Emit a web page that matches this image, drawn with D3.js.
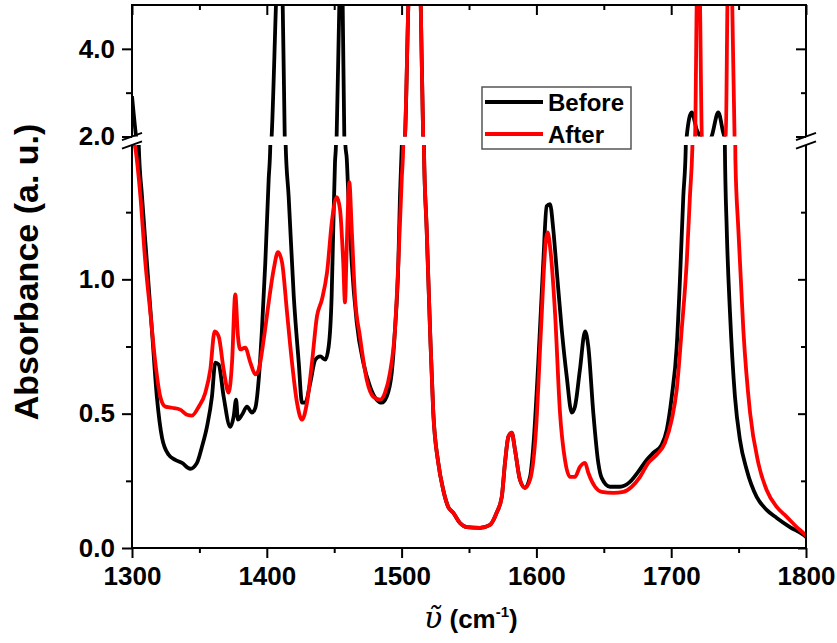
<!DOCTYPE html>
<html><head><meta charset="utf-8">
<script src="https://cdn.jsdelivr.net/npm/d3@7"></script>
<style>
body{margin:0;background:#fff;}
svg{display:block;}
text{font-family:"Liberation Sans",Arial,sans-serif;font-weight:bold;fill:#000;}
</style></head>
<body>
<svg id="c" width="837" height="643"></svg>
<script>
// ---- data (wavenumber cm-1, absorbance a.u.) ----
const seriesNames = ["Before", "After"];
const seriesColors = ["#000000", "#ff0000"];

const wnBefore = [1300,1303.0,1305.0,1307.4,1311.1,1314.8,1318.5,1322.3,1327.2,1332.1,1337.1,1343.2,1348.2,1351.9,1355.6,1359.3,1361.8,1364.3,1368.0,1372.9,1375.4,1377.2,1378.6,1381.6,1385.3,1389.0,1391.5,1394.0,1396.4,1398.9,1401.4,1402.6,1403.6,1406.8,1408.5,1411.8,1413.3,1414.0,1416.2,1420.0,1423.7,1426.1,1428.6,1432.3,1436.0,1439.7,1443.4,1445.9,1448.1,1449.3,1450.6,1451.3,1451.8,1453.8,1455.0,1456.3,1457.5,1458.3,1459.3,1460.5,1463.0,1466.7,1471.6,1476.6,1481.5,1485.2,1488.9,1492.7,1495.1,1497.6,1498.8,1500.1,1502.5,1505.0,1510.0,1514.2,1516.0,1516.6,1518.6,1521.1,1523.5,1527.2,1530.9,1534.6,1538.4,1543.3,1548.3,1558.2,1565.6,1570.5,1574.3,1576.7,1579.2,1581.7,1584.1,1587.8,1591.5,1595.3,1597.7,1601.4,1605.1,1607.6,1610.1,1612.5,1615.0,1618.8,1622.5,1626.2,1628.6,1632.3,1636.1,1638.5,1642.2,1645.9,1648.4,1654.6,1662.0,1669.4,1675.6,1681.8,1686.7,1692.9,1696.7,1700.4,1704.1,1706.5,1709.0,1710.8,1711.5,1715.2,1719.0,1721.4,1725.5,1730.0,1734.9,1738.5,1739.3,1739.8,1741.2,1743.6,1747.3,1751.0,1756.0,1763.4,1770.8,1778.3,1788.1,1798.0,1800];
const absBefore = [2.92,2.0,1.50,1.31,1.06,0.81,0.56,0.41,0.347,0.328,0.317,0.295,0.317,0.377,0.451,0.563,0.690,0.683,0.563,0.451,0.489,0.552,0.478,0.496,0.526,0.504,0.522,0.627,0.813,1.063,1.373,1.50,2.0,5.0,6.5,5.0,2.0,1.50,1.31,0.937,0.690,0.541,0.541,0.616,0.701,0.713,0.701,0.750,0.937,1.187,1.437,1.50,2.0,5.0,6.5,5.0,2.0,1.50,1.45,1.31,1.063,0.840,0.690,0.601,0.552,0.541,0.563,0.653,0.813,1.063,1.310,1.49,2.0,5.0,8.0,5.0,2.0,1.48,1.187,0.813,0.504,0.317,0.216,0.153,0.131,0.093,0.078,0.075,0.086,0.131,0.190,0.317,0.414,0.429,0.366,0.254,0.224,0.265,0.377,0.690,1.063,1.272,1.280,1.187,1.037,0.813,0.638,0.504,0.526,0.664,0.806,0.750,0.504,0.317,0.261,0.228,0.228,0.246,0.284,0.328,0.354,0.384,0.440,0.563,0.750,1.000,1.310,1.49,2.0,2.55,2.15,2.0,1.8,2.0,2.55,2.1,2.0,1.5,1.187,0.877,0.563,0.403,0.291,0.190,0.142,0.112,0.078,0.049,0.041];

const wnAfter = [1300,1303.0,1306.2,1309.9,1313.6,1317.3,1321.0,1324.7,1329.7,1335.8,1340.8,1344.5,1349.5,1354.4,1358.1,1361.3,1364.3,1368.0,1371.7,1374.2,1376.6,1378.6,1380.3,1384.0,1387.8,1391.5,1394.0,1397.7,1401.4,1405.1,1408.3,1411.3,1415.0,1418.7,1422.4,1426.1,1429.8,1433.5,1437.2,1440.9,1444.7,1448.4,1451.9,1454.3,1456.7,1458.0,1459.3,1461.2,1463.0,1465.4,1469.1,1474.1,1479.0,1484.0,1487.7,1491.4,1495.1,1497.6,1500.1,1501.3,1502.5,1505.0,1510.0,1514.2,1516.0,1516.6,1518.6,1521.1,1523.5,1527.2,1530.9,1534.6,1538.4,1543.3,1548.3,1558.2,1565.6,1570.5,1574.3,1576.7,1579.2,1581.7,1584.1,1587.8,1591.5,1595.3,1599.7,1603.4,1607.1,1608.3,1610.1,1613.8,1617.5,1621.2,1624.9,1628.6,1632.3,1636.1,1638.5,1643.5,1648.4,1657.1,1664.5,1670.7,1676.9,1683.0,1689.2,1695.4,1700.4,1704.1,1707.8,1711.5,1713.9,1715.7,1717.7,1718.9,1720.2,1721.4,1722.8,1728.0,1740.5,1741.7,1743.6,1745.3,1747.0,1747.6,1749.8,1753.5,1758.5,1764.6,1770.8,1778.3,1785.7,1793.1,1799.3,1800];
const absAfter = [1.55,1.47,1.311,1.063,0.877,0.690,0.563,0.526,0.522,0.515,0.496,0.493,0.526,0.578,0.664,0.806,0.787,0.664,0.578,0.690,0.944,0.787,0.739,0.746,0.690,0.646,0.664,0.776,0.914,1.037,1.101,1.063,0.877,0.690,0.541,0.478,0.541,0.690,0.862,0.925,1.026,1.22,1.306,1.261,1.063,0.914,1.123,1.362,1.187,0.937,0.787,0.627,0.563,0.552,0.578,0.653,0.813,1.063,1.373,1.51,2.0,5.0,8.0,5.0,2.0,1.48,1.187,0.813,0.504,0.317,0.216,0.153,0.131,0.093,0.078,0.075,0.086,0.131,0.190,0.317,0.414,0.429,0.366,0.254,0.224,0.254,0.440,0.813,1.149,1.175,1.123,0.877,0.504,0.328,0.265,0.265,0.302,0.317,0.280,0.228,0.209,0.205,0.209,0.228,0.265,0.317,0.347,0.392,0.478,0.590,0.813,1.063,1.310,1.49,2.0,5.0,7.0,5.0,2.0,1.75,2.0,5.0,7.0,5.0,2.0,1.45,1.187,0.813,0.504,0.317,0.216,0.153,0.116,0.078,0.049,0.045];

const xTicks = [1300,1400,1500,1600,1700,1800];
const xMinor = [1350,1450,1550,1650,1750];
const yLowTicks = [0.0,0.5,1.0];
const yLowMinor = [0.25,0.75,1.25];
const yHighTicks = [2.0,4.0];
const yHighMinor = [3.0];

// ---- layout ----
const L = 132, R = 806, T = 5, B = 548;
const lowTop = 145, highBot = 136.5;
const svg = d3.select("#c");

const x = d3.scaleLinear().domain([1300,1800]).range([L,R]);
const yLow = d3.scaleLinear().domain([0,1.5]).range([B,lowTop]);
const yHigh = d3.scaleLinear().domain([2,5]).range([highBot,T]);

const defs = svg.append("defs");
defs.append("clipPath").attr("id","clipLow").append("rect")
  .attr("x",L).attr("y",lowTop).attr("width",R-L).attr("height",B-lowTop);
defs.append("clipPath").attr("id","clipHigh").append("rect")
  .attr("x",L).attr("y",T).attr("height",highBot-T).attr("width",R-L);

const series = [
  {wn: wnBefore, ab: absBefore, color: seriesColors[0]},
  {wn: wnAfter, ab: absAfter, color: seriesColors[1]}
];

const gLow = svg.append("g").attr("clip-path","url(#clipLow)");
const gHigh = svg.append("g").attr("clip-path","url(#clipHigh)");
series.forEach(s=>{
  const pts = s.wn.map((w,i)=>[w,s.ab[i]]);
  const lineLow = d3.line().x(d=>x(d[0])).y(d=>yLow(d[1])).curve(d3.curveMonotoneX);
  const lineHigh = d3.line().x(d=>x(d[0])).y(d=>yHigh(d[1])).curve(d3.curveMonotoneX);
  gLow.append("path").datum(pts).attr("d",lineLow).attr("fill","none")
    .attr("stroke",s.color).attr("stroke-width",3.8).attr("stroke-linejoin","round");
  gHigh.append("path").datum(pts).attr("d",lineHigh).attr("fill","none")
    .attr("stroke",s.color).attr("stroke-width",3.8).attr("stroke-linejoin","round");
});

// ---- axes ----
const fontPx = 26;
function styleAxis(g){
  g.select(".domain").remove();
  g.selectAll(".tick line").attr("stroke","#000").attr("stroke-width",2);
  g.selectAll("text").attr("font-size",fontPx+"px").attr("font-family","Liberation Sans, Arial, sans-serif").attr("font-weight","bold").attr("fill","#000");
}
// bottom
svg.append("g").attr("transform",`translate(0,${B})`)
  .call(d3.axisBottom(x).tickValues(xTicks).tickSize(10).tickPadding(9).tickFormat(d3.format("d"))).call(styleAxis);
svg.append("g").attr("transform",`translate(0,${B})`)
  .call(d3.axisBottom(x).tickValues(xMinor).tickSize(5).tickFormat("")).call(styleAxis);
// top (inward)
svg.append("g").attr("transform",`translate(0,${T})`)
  .call(d3.axisTop(x).tickValues(xTicks).tickSize(-10).tickFormat("")).call(styleAxis);
svg.append("g").attr("transform",`translate(0,${T})`)
  .call(d3.axisTop(x).tickValues(xMinor).tickSize(-5).tickFormat("")).call(styleAxis);
// left
svg.append("g").attr("transform",`translate(${L},0)`)
  .call(d3.axisLeft(yLow).tickValues(yLowTicks).tickSize(10).tickPadding(7).tickFormat(d3.format(".1f"))).call(styleAxis);
svg.append("g").attr("transform",`translate(${L},0)`)
  .call(d3.axisLeft(yLow).tickValues(yLowMinor).tickSize(6).tickFormat("")).call(styleAxis);
svg.append("g").attr("transform",`translate(${L},0)`)
  .call(d3.axisLeft(yHigh).tickValues(yHighTicks).tickSize(10).tickPadding(7).tickFormat(d3.format(".1f"))).call(styleAxis);
svg.append("g").attr("transform",`translate(${L},0)`)
  .call(d3.axisLeft(yHigh).tickValues(yHighMinor).tickSize(6).tickFormat("")).call(styleAxis);
// right (inward)
svg.append("g").attr("transform",`translate(${R},0)`)
  .call(d3.axisRight(yLow).tickValues(yLowTicks).tickSize(-8).tickFormat("")).call(styleAxis);
svg.append("g").attr("transform",`translate(${R},0)`)
  .call(d3.axisRight(yLow).tickValues(yLowMinor).tickSize(-5).tickFormat("")).call(styleAxis);
svg.append("g").attr("transform",`translate(${R},0)`)
  .call(d3.axisRight(yHigh).tickValues(yHighTicks).tickSize(-10).tickFormat("")).call(styleAxis);
svg.append("g").attr("transform",`translate(${R},0)`)
  .call(d3.axisRight(yHigh).tickValues(yHighMinor).tickSize(-5).tickFormat("")).call(styleAxis);

// frame lines (broken at the axis break)
const frame = svg.append("g").attr("stroke","#000").attr("stroke-width",2).attr("fill","none");
frame.append("line").attr("x1",L-1).attr("x2",R+1).attr("y1",T).attr("y2",T);
frame.append("line").attr("x1",L-1).attr("x2",R+1).attr("y1",B).attr("y2",B);
[L,R].forEach(ax=>{
  frame.append("line").attr("x1",ax).attr("x2",ax).attr("y1",T).attr("y2",highBot);
  frame.append("line").attr("x1",ax).attr("x2",ax).attr("y1",lowTop).attr("y2",B);
  [highBot, lowTop].forEach(yy=>{
    frame.append("line").attr("x1",ax-10).attr("y1",yy+3.6).attr("x2",ax+10).attr("y2",yy-3.6);
  });
});

// ---- axis titles ----
svg.append("text").attr("transform","translate(38,272) rotate(-90)")
  .attr("text-anchor","middle").attr("font-size","34px").text("Absorbance (a. u.)");

const xt = svg.append("text").attr("x",424).attr("y",628).attr("font-size","26px");
xt.append("tspan").attr("font-family","DejaVu Serif, serif").attr("font-style","italic").attr("font-weight","normal").attr("font-size","30px").text("\u03C5\u0303");
xt.append("tspan").text(" (cm");
xt.append("tspan").attr("font-size","15px").attr("dy",-11).text("-1");
xt.append("tspan").attr("dy",11).text(")");

// ---- legend ----
const lg = svg.append("g");
lg.append("rect").attr("x",482).attr("y",87).attr("width",149).attr("height",62)
  .attr("fill","#fff").attr("stroke","#555").attr("stroke-width",1.5);
seriesNames.forEach((n,i)=>{
  const yy = 102 + i*32;
  lg.append("line").attr("x1",485).attr("x2",543).attr("y1",yy).attr("y2",yy)
    .attr("stroke",seriesColors[i]).attr("stroke-width",3.8);
  lg.append("text").attr("x",548).attr("y",yy+9).attr("font-size","24px").text(n);
});
</script>
</body></html>
